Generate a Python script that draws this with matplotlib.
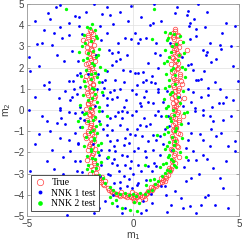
import matplotlib
matplotlib.use("Agg")
import matplotlib.pyplot as plt

# ---- data ----
true_x = [-2.05,-1.9,-2.1,-1.95,-2.2,-1.85,-2.0,-2.15,-1.9,-2.05,-1.8,-2.2,-1.95,-2.1,-1.85,-2.0,-2.25,-1.9,-2.05,-1.95,
          -2.15,-1.8,-2.0,-2.1,-1.9,-2.2,-1.95,-2.05,-1.85,-2.15,-2.0,-1.9,-2.1,-1.95,-2.2,-1.85,-2.05,-1.95,-2.1,-1.9,
          -2.0,-2.15,-1.85,-2.0,-1.9,-1.75,-2.05,-2.35,-2.25,-1.8,
          -1.6,-1.5,-1.35,-1.2,-1.05,-0.9,-0.75,-0.6,-0.45,-0.3,-0.15,0.0,0.1,0.2,0.35,0.5,0.65,0.8,0.95,1.1,
          1.25,1.4,1.55,1.65,1.75,-0.05,0.3,-1.3,0.85,1.3,1.5,-0.55,0.55,-1.45,0.05,
          2.0,1.9,2.1,1.95,2.2,1.85,2.05,1.95,2.15,1.9,2.05,1.8,2.1,1.95,2.2,1.9,2.05,2.3,1.95,2.1,
          1.85,2.0,2.15,1.9,2.05,1.95,2.1,1.85,2.0,2.15,1.9,2.05,1.95,2.2,1.9,2.05,1.95,2.1,1.85,2.0,
          2.15,1.9,2.0,1.85,1.8,2.55,2.4,2.35,1.75,2.25,
          -1.98,-2.12,-1.88,-2.02,-2.18,-1.92,-2.08,-1.82,-2.0,-2.14,-1.96,-2.06,-1.86,-2.22,-1.94,-2.04,-1.9,-2.16,-1.98,-2.1,
          -1.84,-2.02,-2.12,-1.92,-2.0,-2.08,-1.88,-2.18,-1.96,-2.04,-1.9,-2.1,-1.86,-2.0,-1.94,-2.06,-1.8,-1.95,-1.85,-1.7,
          1.98,2.12,1.88,2.02,2.18,1.92,2.08,1.82,2.0,2.14,1.96,2.06,1.86,2.22,1.94,2.04,1.9,2.16,1.98,2.1,
          1.84,2.02,2.12,1.92,2.0,2.08,1.88,2.18,1.96,2.04,1.9,2.1,1.86,2.0,1.94,2.06,1.8,1.95,1.85,1.72,
          -1.42,-1.15,-0.98,-0.82,-0.68,-0.38,-0.22,-0.08,0.08,0.25,0.42,0.6,0.72,0.88,1.02,1.18,1.35,1.58,1.7,-1.6,-1.75,-1.7]
true_y = [3.75,3.6,3.45,3.3,3.2,3.05,2.9,2.75,2.6,2.45,2.3,2.15,2.0,1.85,1.7,1.55,1.4,1.25,1.1,0.95,
          0.8,0.65,0.5,0.35,0.2,0.05,-0.1,-0.25,-0.4,-0.55,-0.7,-0.85,-1.0,-1.15,-1.3,-1.45,-1.6,-1.75,-1.9,-2.05,
          -2.2,-2.35,-2.5,-2.65,-2.8,-2.95,-3.0,3.3,-1.2,0.9,
          -3.2,-3.4,-3.55,-3.7,-3.8,-3.9,-3.95,-4.05,-4.0,-4.1,-4.05,-4.15,-3.95,-4.1,-4.0,-4.05,-3.9,-3.85,-3.7,-3.6,
          -3.45,-3.3,-3.2,-3.05,-2.9,-3.85,-4.25,-3.35,-3.65,-3.2,-3.35,-3.85,-4.2,-3.15,-4.3,
          3.8,3.65,3.5,3.35,3.2,3.05,2.9,2.75,2.6,2.45,2.3,2.15,2.0,1.85,1.7,1.55,1.4,1.25,1.1,0.95,
          0.8,0.65,0.5,0.35,0.2,0.05,-0.1,-0.25,-0.4,-0.55,-0.7,-0.85,-1.0,-1.15,-1.3,-1.45,-1.6,-1.75,-1.9,-2.05,
          -2.2,-2.35,-2.5,-2.65,-2.8,2.85,0.55,-0.3,3.55,1.35,
          3.68,3.52,3.38,3.12,2.98,2.82,2.68,2.52,2.38,2.22,2.08,1.92,1.78,1.62,1.48,1.32,1.18,1.02,0.88,0.72,
          0.58,0.42,0.28,0.12,-0.02,-0.18,-0.32,-0.48,-0.62,-0.78,-0.92,-1.08,-1.22,-1.38,-1.52,-1.68,-1.82,-2.12,-2.42,-2.72,
          3.72,3.56,3.42,3.12,2.98,2.82,2.68,2.52,2.38,2.22,2.08,1.92,1.78,1.62,1.48,1.32,1.18,1.02,0.88,0.72,
          0.58,0.42,0.28,0.12,-0.02,-0.18,-0.32,-0.48,-0.62,-0.78,-0.92,-1.08,-1.22,-1.38,-1.52,-1.68,-1.82,-2.12,-2.42,-2.72,
          -3.5,-3.75,-3.85,-3.95,-4.0,-4.05,-4.0,-4.1,-4.05,-4.0,-4.1,-3.95,-3.8,-3.75,-3.55,-3.5,-3.4,-3.1,-2.85,-3.3,-3.1,-3.2]

nnk1_x = [-3.43,-3.62,-4.03,-1.86,-1.23,-2.2,-2.72,-2.53,-1.45,-1.07,-0.94,-0.08,-0.24,-3.46,-3.74,-4.18,-3.35,-3.03,-4.53,-4.29,
          -3.82,-2.56,-1.57,-1.23,-0.36,-0.09,-0.72,-1.15,-1.0,-0.72,-2.88,-4.92,-4.45,-3.24,-0.79,-0.6,-1.23,-4.84,-0.49,-0.13,
          -3.03,-2.83,-2.64,-2.48,-3.98,-1.67,-1.46,-1.3,-0.83,-0.44,-1.07,-0.88,-1.38,-1.23,-1.0,-0.75,-0.31,-2.8,-2.64,-2.88,
          -2.96,-3.98,-3.51,-3.43,-2.48,-1.78,-1.23,-0.44,-0.05,
          0.97,2.09,3.07,1.97,2.59,2.55,2.88,2.64,2.67,0.82,0.94,2.99,3.38,4.2,4.8,0.08,0.6,0.35,0.24,1.1,
          1.73,2.96,2.7,3.62,4.09,3.3,3.49,4.17,3.43,1.02,1.26,0.71,0.47,0.08,0.24,2.59,2.75,3.69,4.72,2.83,
          3.33,0.6,0.86,0.47,1.02,2.96,3.07,3.22,3.85,4.96,0.19,1.18,0.16,0.63,2.83,3.54,4.09,3.54,0.71,0.94,
          0.39,0.31,2.75,2.91,3.22,3.74,4.06,4.25,2.36,4.72,
          -4.92,-3.43,-3.03,-2.72,-2.48,-1.46,-1.07,-0.83,-0.52,-0.28,-0.05,-4.06,-3.58,-3.19,-4.45,-3.9,-3.43,-3.03,-2.72,-1.23,
          -1.0,-0.6,-0.28,-0.13,-1.23,-1.07,-0.75,-0.44,-0.2,0.03,-1.15,-0.83,-0.52,-0.28,-1.23,-1.0,-0.75,-0.36,-0.16,-0.68,
          -1.07,-0.44,-2.96,-3.3,-2.72,-3.74,-4.84,-4.06,-2.64,-2.41,-0.2,-0.91,-0.05,-1.3,-0.75,-0.36,-0.52,-3.11,-1.86,
          0.16,1.18,1.02,1.34,2.91,3.3,3.62,3.77,4.25,0.31,0.63,0.79,0.94,1.26,0.08,0.44,0.71,1.1,2.75,2.59,
          3.14,3.3,3.62,3.93,4.17,4.48,4.8,0.24,0.55,0.94,1.26,2.83,3.3,2.99,3.77,0.24,0.71,0.39,1.1,0.63,
          0.24,2.52,2.75,4.25,1.34,1.97,1.57,2.28,1.81,2.36,2.67,3.22,3.85,2.99,0.63,0.39,3.54,4.8,
          -1.75,-2.3,-1.6,-2.1,-1.9,2.15,1.85,2.3,1.7,2.05,-0.6,0.45,-0.95,0.85,-0.3,0.2,-1.55,1.5,-2.6,2.6,
          -4.6,-3.9,-3.0,-2.4,-1.5,-0.6,0.4,1.3,3.5,4.4,4.6,3.9,1.2,0.9,-0.3,-1.0,-2.6,-3.6,-4.2,-4.6,
          -3.2,-2.5,-1.4,-0.6,0.5,1.4,2.6,3.3,4.4,4.6,3.7,2.6,1.5,0.5,-0.5,-1.4,-2.5,-3.4,-4.3,-4.6,
          -3.8,-2.6,-1.5,-0.9,-0.1,0.6,1.4,2.5,3.5,4.4,4.1,3.1,2.4,0.9,-0.6,-1.5,-2.5,-3.3,-4.2,-2.8,
          -2.0,-1.6,0.9,1.6,3.4,4.5,-3.9,-0.9,-0.4,0.2,0.0,-1.2,1.0,-0.7,1.2,-1.7,-1.6,1.6,1.65,-2.4]
nnk1_y = [4.95,4.84,4.56,4.98,4.87,4.64,4.43,4.37,4.53,4.48,4.06,4.9,4.21,3.93,3.65,3.77,3.38,3.54,3.11,3.14,
          3.07,3.96,3.96,3.62,3.38,3.33,3.18,2.83,2.67,2.75,2.78,2.52,2.09,2.33,2.31,2.39,1.86,1.86,1.91,1.86,
          1.38,1.38,1.65,1.76,1.34,1.68,1.34,1.41,1.41,1.34,0.87,0.94,1.02,0.55,0.5,0.6,0.47,0.97,0.75,0.63,
          0.47,0.97,0.55,0.08,0.13,0.19,0.24,0.16,0.94,
          4.98,4.87,4.98,4.59,4.67,4.48,4.28,3.96,4.12,4.01,4.12,3.81,3.93,3.65,3.96,3.65,3.38,3.33,3.18,3.18,
          3.14,3.51,3.33,3.18,3.07,2.83,2.75,2.86,2.59,2.7,2.59,2.2,1.81,1.76,1.76,2.12,2.17,2.28,2.08,1.89,
          1.86,1.41,1.34,1.34,1.26,1.41,1.41,1.44,1.34,1.38,1.18,0.83,0.75,0.91,0.83,1.02,0.97,0.71,0.39,0.34,
          0.19,0.34,0.39,0.08,0.6,0.16,0.31,0.31,0.19,0.47,
          0.02,0.02,-0.09,-0.14,-0.38,-0.03,-0.38,-0.3,-0.06,-0.09,-0.22,-0.54,-0.61,-0.66,-1.13,-1.01,-1.32,-1.4,-1.09,-0.69,
          -0.93,-0.72,-0.88,-1.13,-1.16,-1.48,-1.4,-1.64,-1.56,-1.92,-1.87,-1.92,-2.11,-2.19,-2.26,-2.5,-2.58,-2.58,-2.74,-2.89,
          -3.05,-3.13,-1.95,-2.23,-2.42,-2.77,-2.89,-2.42,-2.89,-2.92,-3.24,-3.44,-3.68,-4.28,-4.54,-4.62,-4.86,-4.94,-4.86,
          -0.06,-0.03,-0.22,-0.3,-0.06,-0.22,-0.3,-0.54,-0.46,-0.72,-0.77,-0.66,-1.16,-1.24,-1.16,-1.24,-1.48,-1.4,-1.09,-1.4,
          -1.13,-1.4,-1.71,-1.24,-1.09,-1.71,-1.45,-1.79,-1.95,-1.87,-2.11,-1.95,-2.11,-2.34,-2.74,-2.58,-2.66,-2.89,-2.66,-3.29,
          -3.44,-3.37,-3.21,-3.68,-3.6,-3.81,-3.99,-4.15,-4.47,-4.62,-4.54,-4.47,-4.47,-4.86,-4.7,-4.86,-3.99,-1.95,
          2.6,-0.45,-2.1,1.7,-1.6,0.6,-1.9,2.5,-0.75,3.1,-3.7,-4.3,-4.0,-3.95,-3.6,-3.55,-3.1,-3.6,-1.55,-2.35,
          4.2,4.3,4.1,3.6,3.3,4.6,4.4,4.2,4.6,4.1,3.0,2.4,2.0,1.6,2.6,2.1,2.3,2.6,1.2,0.6,
          0.9,1.1,0.7,1.0,0.6,0.4,1.0,0.0,0.6,-0.3,-0.9,-0.6,-0.9,-0.4,-0.4,-0.9,-0.8,-0.4,-0.3,-1.6,
          -1.9,-1.6,-1.9,-1.7,-2.4,-2.2,-1.6,-1.8,-2.3,-2.4,-3.2,-3.0,-2.7,-2.9,-3.4,-2.6,-2.4,-3.0,-3.6,-3.8,
          -4.2,-4.6,-4.4,-4.8,-4.1,-4.6,-4.5,-2.3,-1.3,-0.9,-3.0,-3.0,-2.5,-0.1,1.0,1.0,-0.5,0.9,-0.3,-0.1]

nnk2_x = [-1.95,-2.15,-1.8,-2.3,-1.7,-2.0,-2.4,-1.6,-2.1,-1.75,-2.35,-1.95,-1.55,-2.2,-1.8,-2.45,-2.0,-1.6,-2.25,-1.85,
          -1.45,-2.35,-1.95,-1.7,-2.5,-2.05,-1.6,-2.3,-1.8,-2.1,-1.55,-2.4,-1.9,-1.7,-2.2,-1.85,-1.5,-2.3,-2.0,-1.65,
          -2.15,-1.8,-1.5,-2.1,-1.75,-1.95,-1.6,-1.4,-3.15,-1.25,-1.3,-2.6,-2.55,-1.2,
          -1.3,-1.1,-0.95,-0.8,-0.6,-0.4,-0.2,0.0,0.15,0.35,0.55,0.7,0.9,1.05,1.2,1.35,1.5,-0.8,0.3,-0.5,
          0.05,-1.1,1.0,0.6,0.8,-1.0,0.2,-0.15,
          1.5,1.75,2.2,1.6,2.35,1.85,1.5,2.4,1.7,2.1,1.45,2.3,1.8,1.55,2.45,1.7,2.0,1.5,2.35,1.75,
          1.45,2.2,1.65,1.9,2.4,1.55,1.8,2.25,1.6,2.0,1.45,2.3,1.7,1.95,1.5,2.2,1.65,1.9,1.4,2.05,
          1.6,2.45,2.55,1.25,0.55,2.5,0.9,1.15,1.0,
          -2.05,-1.75,-2.25,-1.9,-1.65,-2.15,-1.85,-2.0,-1.7,-2.3,-1.95,-1.8,-2.1,-1.6,-2.2,-1.9,-1.75,-2.05,-1.85,-1.65,
          -2.0,-1.95,-1.7,-2.15,-1.8,
          1.95,1.65,2.05,1.8,2.15,1.6,1.9,2.0,1.7,1.85,2.1,1.55,1.95,1.75,2.05,1.65,1.85,2.0,1.6,1.9,
          1.7,1.8,1.55,1.95,1.75]
nnk2_y = [4.05,3.9,3.75,3.55,3.4,3.25,3.0,2.9,2.7,2.5,2.35,2.2,2.05,1.9,1.75,1.6,1.45,1.3,1.15,1.0,
          0.85,0.7,0.55,0.4,0.25,0.1,-0.05,-0.2,-0.35,-0.5,-0.65,-0.8,-0.95,-1.1,-1.25,-1.4,-1.55,-1.7,-1.85,-2.0,
          -2.15,-2.3,-2.45,-2.6,-2.75,-2.9,-3.05,-3.2,4.75,-0.3,1.9,-0.5,2.75,-2.2,
          -3.45,-3.65,-3.75,-3.9,-3.95,-3.9,-4.0,-3.95,-4.05,-3.9,-3.95,-3.8,-3.75,-3.5,-3.35,-3.1,-2.95,-4.25,-4.4,-4.6,
          -4.35,-4.1,-3.25,-3.55,-3.3,-4.4,-4.75,-4.7,
          3.7,3.65,3.5,3.3,3.2,3.0,2.85,2.7,2.5,2.35,2.2,2.05,1.9,1.7,1.55,1.4,1.25,1.05,0.9,0.75,
          0.5,0.35,0.2,0.0,-0.15,-0.3,-0.5,-0.65,-0.8,-1.0,-1.15,-1.3,-1.5,-1.65,-1.85,-2.0,-2.2,-2.4,-2.55,-2.7,
          -2.85,1.95,-0.1,-2.7,-2.6,-2.2,3.35,-1.2,4.75,
          3.85,3.5,3.15,2.8,2.6,2.45,2.1,1.7,1.55,1.35,1.05,0.75,0.45,0.15,-0.15,-0.45,-0.75,-1.05,-1.3,-1.65,
          -1.95,-2.25,-2.55,-2.8,-3.1,
          3.6,3.4,3.1,2.75,2.6,2.3,2.0,1.65,1.15,0.85,0.6,0.1,-0.25,-0.4,-0.85,-1.05,-1.25,-1.45,-1.7,-1.9,
          -2.1,-2.3,-2.5,-2.6,-2.9]

xticks = [-5, 0, 5]
yticks = [-5, -4, -3, -2, -1, 0, 1, 2, 3, 4, 5]

# ---- figure ----
fig = plt.figure(figsize=(2.42, 2.46), dpi=100)
ax = fig.add_axes([27/242, 1-216/246, 212/242, 212/246])

ax.plot(true_x, true_y, linestyle='none', marker='o', markersize=3.3,
        markerfacecolor='none', markeredgecolor=(1.0, 0.25, 0.25), markeredgewidth=0.5, label='True', zorder=3)
ax.plot(nnk1_x, nnk1_y, linestyle='none', marker='o', markersize=2.0,
        markerfacecolor=(0.0, 0.0, 1.0), markeredgecolor='none', label='NNK 1 test', zorder=4)
ax.plot(nnk2_x, nnk2_y, linestyle='none', marker='o', markersize=2.4,
        markerfacecolor=(0.0, 1.0, 0.0), markeredgecolor='none', label='NNK 2 test', zorder=5)

ax.set_xlim(-5, 5)
ax.set_ylim(-5, 5)
ax.set_xticks(xticks)
ax.set_yticks(yticks)
ax.grid(True, color='0.88', linewidth=0.5)
ax.set_axisbelow(True)
for s in ax.spines.values():
    s.set_color('0.6')
    s.set_linewidth(0.6)
ax.tick_params(direction='in', length=2, width=0.5, color='0.5', labelsize=7,
               labelcolor='0.25', pad=2, top=True, right=True)
for lab in ax.get_xticklabels() + ax.get_yticklabels():
    lab.set_fontfamily('Liberation Sans')

ax.set_xlabel('m$_1$', fontsize=7.5, color='0.25', family='Liberation Sans', labelpad=1)
ax.set_ylabel('m$_2$', fontsize=7.5, color='0.25', family='Liberation Sans', labelpad=0)

leg = ax.legend(loc='lower left', bbox_to_anchor=(0.019, 0.024), borderaxespad=0,
                fancybox=False, framealpha=1, edgecolor='0.2',
                prop={'family': 'Liberation Serif', 'size': 7},
                handlelength=1.2, handletextpad=0.6, borderpad=0.3, labelspacing=0.15,
                markerscale=1.4)
leg.get_frame().set_linewidth(0.6)
leg.set_zorder(10)

fig.savefig('out.png', dpi=100)
